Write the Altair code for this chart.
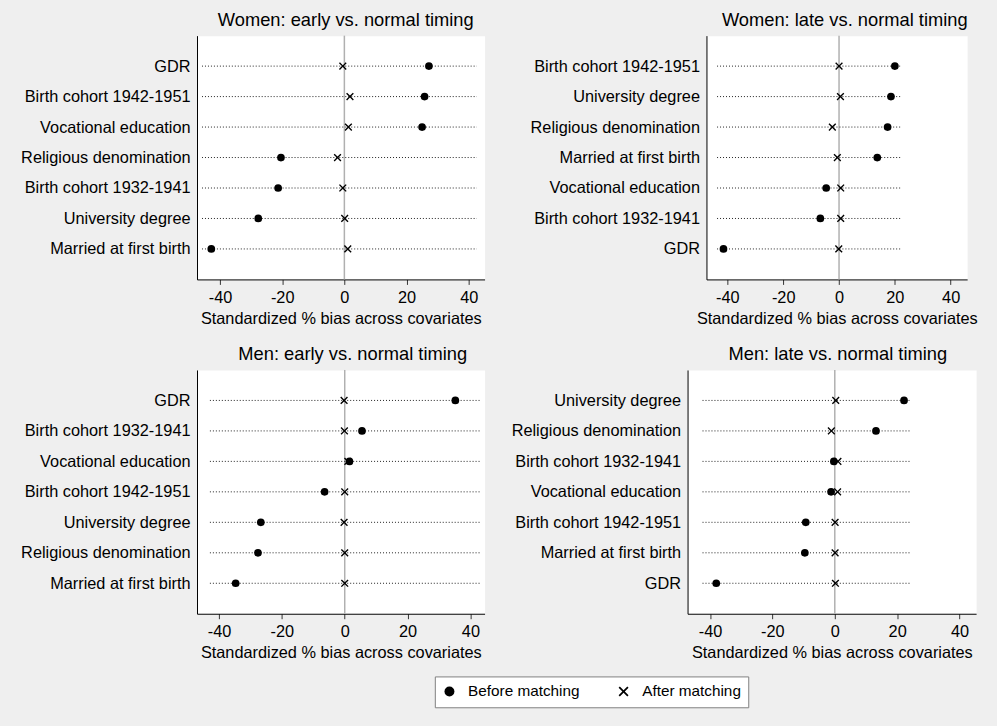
import altair as alt
import pandas as pd

FONT = "Liberation Sans"

# ---------------- data ----------------
titles = [
    "Women: early vs. normal timing",
    "Women: late vs. normal timing",
    "Men: early vs. normal timing",
    "Men: late vs. normal timing",
]

labels_we = ["GDR", "Birth cohort 1942-1951", "Vocational education", "Religious denomination",
             "Birth cohort 1932-1941", "University degree", "Married at first birth"]
before_we = [27.2, 25.8, 25.0, -20.4, -21.3, -27.7, -42.8]
after_we = [-0.5, 1.8, 1.3, -2.2, -0.5, 0.1, 1.1]
line_we = [-45.8, 42.6]
domain_we = [-47.4, 45.1]

labels_wl = ["Birth cohort 1942-1951", "University degree", "Religious denomination", "Married at first birth",
             "Vocational education", "Birth cohort 1932-1941", "GDR"]
before_wl = [20.0, 18.6, 17.4, 13.7, -4.6, -6.7, -41.4]
after_wl = [0.0, 0.5, -2.4, -0.6, 0.6, 0.6, -0.1]
line_wl = [-43.7, 22.6]
domain_wl = [-47.5, 45.9]

labels_me = ["GDR", "Birth cohort 1932-1941", "Vocational education", "Birth cohort 1942-1951",
             "University degree", "Religious denomination", "Married at first birth"]
before_me = [35.2, 5.5, 1.5, -6.4, -26.7, -27.6, -34.7]
after_me = [-0.2, -0.1, 1.0, 0.0, -0.2, 0.0, 0.0]
line_me = [-42.9, 42.9]
domain_me = [-47.0, 44.5]

labels_ml = ["University degree", "Religious denomination", "Birth cohort 1932-1941", "Vocational education",
             "Birth cohort 1942-1951", "Married at first birth", "GDR"]
before_ml = [22.2, 13.2, -0.3, -1.2, -9.3, -9.6, -38.0]
after_ml = [0.3, -1.1, 1.0, 0.9, 0.1, 0.1, 0.2]
line_ml = [-42.4, 24.1]
domain_ml = [-47.2, 45.3]

x_ticks = [-40, -20, 0, 20, 40]
x_title = "Standardized % bias across covariates"
series_names = ["Before matching", "After matching"]

# ---------------- styling / layout ----------------
XPATH = ("M0,-0.25L0.75,-1L1,-0.75L0.25,0L1,0.75L0.75,1L0,0.25L-0.75,1"
         "L-1,0.75L-0.25,0L-1,-0.75L-0.75,-1Z")

LEG = alt.Legend(
    orient="none", legendX=239, legendY=644, direction="horizontal", title=None,
    labelFont=FONT, labelFontSize=15.4, labelColor="black", labelOffset=11, labelLimit=400,
    symbolSize=100, symbolStrokeWidth=0, symbolOpacity=1,
    padding=7, columnPadding=36, fillColor="white", strokeColor="#808080",
)


def panel(title, labels, before, after, line, domain, width, extent, dx):
    n = len(labels)
    pts = pd.DataFrame({
        "covariate": labels + labels,
        "bias": before + after,
        "type": [series_names[0]] * n + [series_names[1]] * n,
    })
    lines = pd.DataFrame({"covariate": labels, "start": [line[0]] * n, "end": [line[1]] * n})
    zero = pd.DataFrame({"z": [0]})

    xscale = alt.Scale(domain=domain, nice=False, zero=False)
    yscale = alt.Scale(type="point", domain=labels, padding=1)
    xaxis = alt.Axis(values=x_ticks, title=x_title, tickSize=5, labelPadding=5, titlePadding=5,
                     grid=False, labelExpr="'' + datum.value")
    yaxis = alt.Axis(title=None, ticks=False, tickSize=0, labelPadding=7, grid=False,
                     minExtent=extent, labelLimit=400)

    zl = alt.Chart(zero).mark_rule(color="#b0b0b0", strokeWidth=1.5).encode(
        x=alt.X("z:Q", scale=xscale, axis=xaxis))
    rl = alt.Chart(lines).mark_rule(color="#222222", strokeDash=[1, 2], strokeWidth=1).encode(
        x=alt.X("start:Q", scale=xscale, axis=xaxis),
        x2="end:Q",
        y=alt.Y("covariate:N", scale=yscale, axis=yaxis, sort=labels))
    pl = alt.Chart(pts).mark_point(filled=True, size=60, opacity=1).encode(
        x=alt.X("bias:Q", scale=xscale, axis=xaxis),
        y=alt.Y("covariate:N", scale=yscale, axis=yaxis, sort=labels),
        shape=alt.Shape("type:N", scale=alt.Scale(domain=series_names, range=["circle", XPATH]), legend=LEG),
        color=alt.Color("type:N", scale=alt.Scale(domain=series_names, range=["black", "black"]), legend=LEG),
    )
    return alt.layer(zl, rl, pl).properties(
        width=width, height=245,
        title=alt.TitleParams(title, font=FONT, fontSize=18.4, fontWeight="normal", color="black",
                              anchor="middle", dx=dx, offset=6),
    )


p1 = panel(titles[0], labels_we, before_we, after_we, line_we, domain_we, 289, 190, 5)
p2 = panel(titles[1], labels_wl, before_wl, after_wl, line_wl, domain_wl, 262, 201, 8)
p3 = panel(titles[2], labels_me, before_me, after_me, line_me, domain_me, 289, 190, 12)
p4 = panel(titles[3], labels_ml, before_ml, after_ml, line_ml, domain_ml, 290, 182, 6)

row1 = alt.hconcat(p1, p2, spacing=20).resolve_scale(x="independent", y="independent")
row2 = alt.hconcat(p3, p4, spacing=20).resolve_scale(x="independent", y="independent")

chart = (
    alt.vconcat(row1, row2, spacing=16)
    .resolve_scale(x="independent", y="independent", shape="shared", color="shared")
    .properties(background="#efefef", padding={"left": 7, "top": 8, "right": 19, "bottom": 16})
    .configure_view(fill="white", stroke="transparent")
    .configure_axis(labelFont=FONT, labelFontSize=16.4, labelColor="black", titleFont=FONT,
                    titleFontSize=16.4, titleFontWeight="normal", titleColor="black",
                    domainColor="black", domainWidth=1, tickColor="#333333")
)

chart.save("out.html", embed_options={"renderer": "svg", "actions": False})
